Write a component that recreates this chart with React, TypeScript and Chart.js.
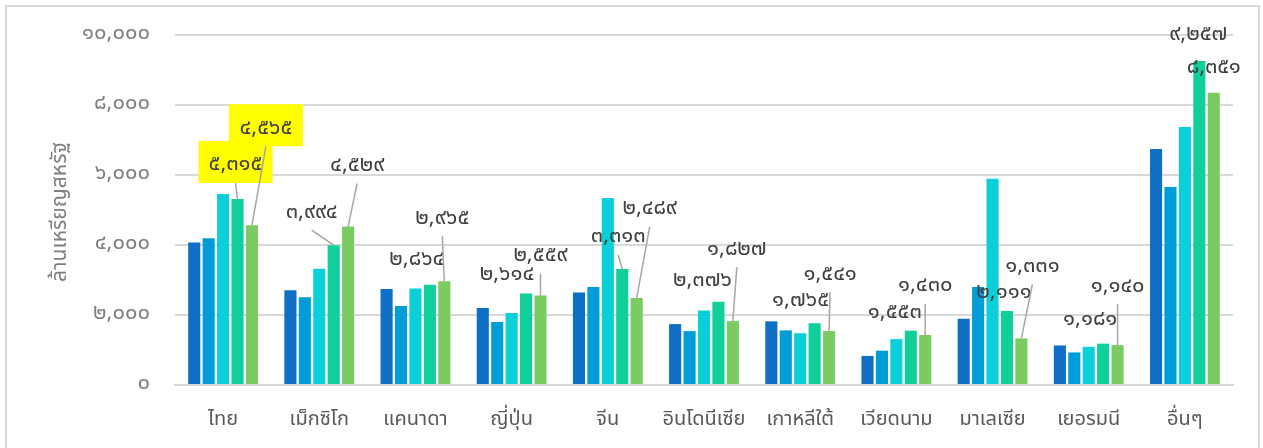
import React, { useEffect, useRef } from "react";
import { Chart, registerables } from "chart.js";

Chart.register(...registerables);

const categories = ["ไทย", "เม็กซิโก", "แคนาดา", "ญี่ปุ่น", "จีน", "อินโดนีเซีย", "เกาหลีใต้", "เวียดนาม", "มาเลเซีย", "เยอรมนี", "อื่นๆ"];
const series1 = [4070, 2710, 2740, 2200, 2640, 1740, 1820, 830, 1890, 1130, 6740];
const series2 = [4190, 2510, 2260, 1800, 2800, 1540, 1560, 980, 2800, 930, 5660];
const series3 = [5460, 3320, 2760, 2060, 5340, 2130, 1480, 1310, 5890, 1090, 7370];
const series4 = [5315, 3994, 2864, 2614, 3313, 2376, 1765, 1553, 2111, 1181, 9257];
const series5 = [4565, 4529, 2965, 2559, 2489, 1827, 1541, 1430, 1331, 1140, 8351];
const seriesNames = ["ชุดที่ 1", "ชุดที่ 2", "ชุดที่ 3", "ชุดที่ 4", "ชุดที่ 5"];
const seriesColors = ["#0F6FC6", "#009DD9", "#0BD0D9", "#10CF9B", "#7CCA62"];
const yTicks = [0, 2000, 4000, 6000, 8000, 10000];
const yTitle = "ล้านเหรียญสหรัฐ";

// label offsets (px) from bar top for series 4 and 5: [dx, dy, leader]
const label4Offsets: [number, number, boolean][] = [[-2, -33, true], [-22, -32, true], [-13, -24, false], [-19, -18, false], [-4, -31, true], [-16, -20, false], [-14, -22, false], [-16, -17, false], [-3, -18, false], [-13, -23, false], [-1, -25, false]];
const label5Offsets: [number, number, boolean][] = [[14, -96, true], [9, -60, true], [-2, -62, true], [0, -39, true], [13, -88, true], [4, -71, true], [1, -56, true], [0, -48, true], [11, -71, true], [0, -58, true], [0, -24, false]];
const highlighted = [0];

const FONT = "'Noto Sans Thai', 'Leelawadee UI', Tahoma, 'Noto Sans', sans-serif";
const thaiDigits = "๐๑๒๓๔๕๖๗๘๙";
const toThai = (n: number) =>
  n.toLocaleString("en-US").replace(/[0-9]/g, (d) => thaiDigits[Number(d)]);

const overlay = {
  id: "overlay",
  beforeDraw(chart: any) {
    const ctx = chart.ctx;
    ctx.save();
    ctx.strokeStyle = "#d9d9d9";
    ctx.lineWidth = 2;
    ctx.beginPath();
    ctx.moveTo(6, 460);
    ctx.lineTo(6, 6);
    ctx.lineTo(1259, 6);
    ctx.lineTo(1259, 460);
    ctx.stroke();
    ctx.restore();
  },
  afterDraw(chart: any) {
    const ctx = chart.ctx;
    ctx.save();
    ctx.translate(62, 212);
    ctx.rotate(-Math.PI / 2);
    ctx.fillStyle = "#7f7f7f";
    ctx.font = `21px ${FONT}`;
    ctx.textAlign = "center";
    ctx.textBaseline = "middle";
    ctx.fillText(yTitle, 0, 0);
    ctx.restore();

    const drawSet = (dsIndex: number, values: number[], offs: [number, number, boolean][]) => {
      const meta = chart.getDatasetMeta(dsIndex);
      meta.data.forEach((bar: any, i: number) => {
        const [dx, dy, leader] = offs[i];
        const lx = bar.x + dx;
        const ly = bar.y + dy;
        ctx.save();
        if (leader) {
          ctx.strokeStyle = "#a6a6a6";
          ctx.lineWidth = 1.5;
          ctx.beginPath();
          ctx.moveTo(lx, ly + 17);
          ctx.lineTo(bar.x, bar.y);
          ctx.stroke();
        }
        if (highlighted.includes(i)) {
          ctx.fillStyle = "#FFFF00";
          ctx.fillRect(lx - 37, ly - 25, 74, 42);
        }
        ctx.fillStyle = "#404040";
        ctx.font = `22px ${FONT}`;
        ctx.textAlign = "center";
        ctx.textBaseline = "middle";
        ctx.fillText(toThai(values[i]), lx, ly);
        ctx.restore();
      });
    };
    drawSet(3, series4, label4Offsets);
    drawSet(4, series5, label5Offsets);
  },
};

export default function App() {
  const ref = useRef<HTMLCanvasElement>(null);
  useEffect(() => {
    if (!ref.current) return;
    const all = [series1, series2, series3, series4, series5];
    const chart = new Chart(ref.current, {
      type: "bar",
      data: {
        labels: categories,
        datasets: all.map((d, i) => ({
          label: seriesNames[i],
          data: d,
          backgroundColor: seriesColors[i],
          categoryPercentage: 0.75,
          barPercentage: 0.84,
        })),
      },
      options: {
        animation: false,
        responsive: false,
        maintainAspectRatio: false,
        layout: { padding: { left: 0, top: 35, right: 30, bottom: 0 } },
        plugins: { legend: { display: false }, tooltip: { enabled: false } },
        scales: {
          x: {
            grid: { display: false, drawTicks: false },
            border: { color: "#d9d9d9", width: 2 },
            ticks: { color: "#595959", font: { family: FONT, size: 20 }, padding: 24, maxRotation: 0 },
            afterFit: (s: any) => { s.height = 63; s.paddingLeft = 0; s.paddingRight = 0; },
          },
          y: {
            min: 0,
            max: 10000,
            afterBuildTicks: (s: any) => { s.ticks = yTicks.map((v) => ({ value: v })); },
            grid: { color: "#d9d9d9", lineWidth: 2, drawTicks: false },
            border: { display: false },
            ticks: {
              color: "#7f7f7f",
              font: { family: FONT, size: 22 },
              padding: 25,
              callback: (v: any) => toThai(Number(v)),
            },
            afterFit: (s: any) => { s.width = 175; s.paddingTop = 0; s.paddingBottom = 0; },
          },
        },
      },
      plugins: [overlay],
    });
    return () => chart.destroy();
  }, []);
  return (
    <div style={{ position: "absolute", left: 0, top: 0, width: 1263, height: 448, background: "#fff" }}>
      <canvas ref={ref} width={1263} height={448} style={{ display: "block" }} />
    </div>
  );
}
